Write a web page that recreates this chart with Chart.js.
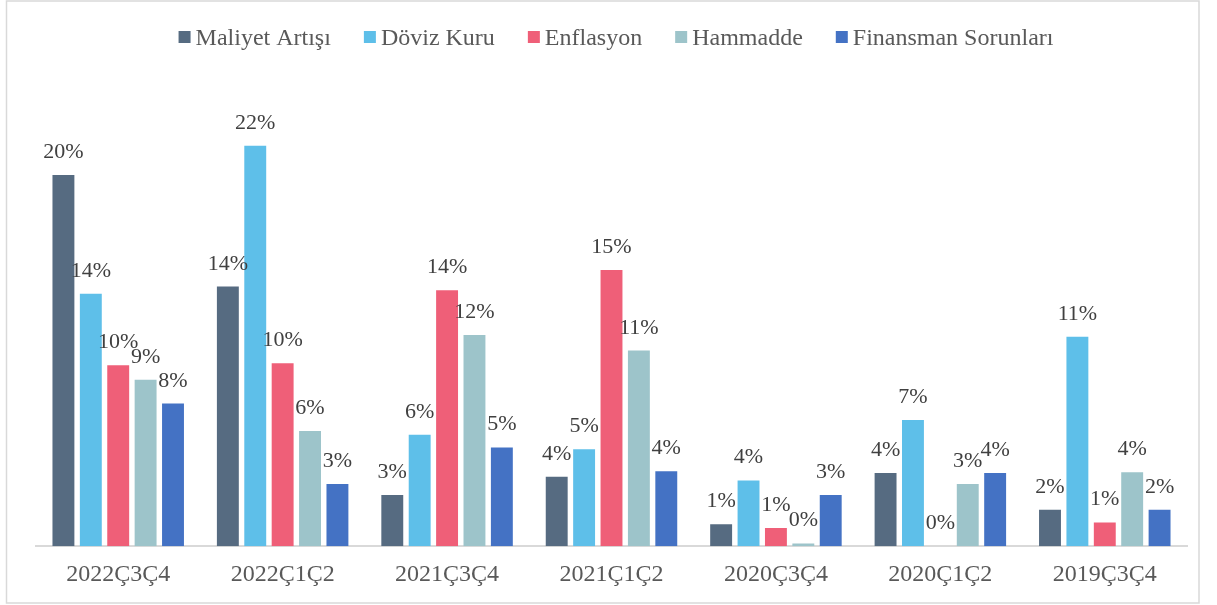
<!DOCTYPE html>
<html lang="tr">
<head>
<meta charset="utf-8">
<title>Sorunlar</title>
<script src="https://cdn.jsdelivr.net/npm/chart.js@4.4.1/dist/chart.umd.min.js"></script>
<style>
    html, body { margin: 0; padding: 0; background: #ffffff; }
    canvas { display: block; }
</style>
</head>
<body>
<canvas id="sorunChart" width="1217" height="605"></canvas>
<script>
// Daten
const kategoriler = ['2022Ç3Ç4', '2022Ç1Ç2', '2021Ç3Ç4', '2021Ç1Ç2', '2020Ç3Ç4', '2020Ç1Ç2', '2019Ç3Ç4'];
const seriNamen = ['Maliyet Artışı', 'Döviz Kuru', 'Enflasyon', 'Hammadde', 'Finansman Sorunları'];
const maliyetArtisi = [20.3, 14.2, 2.8, 3.8, 1.2, 4.0, 2.0];
const dovizKuru = [13.8, 21.9, 6.1, 5.3, 3.6, 6.9, 11.45];
const enflasyon = [9.9, 10.0, 14.0, 15.1, 1.0, 0, 1.3];
const hammadde = [9.1, 6.3, 11.55, 10.7, 0.15, 3.4, 4.05];
const finansman = [7.8, 3.4, 5.4, 4.1, 2.8, 4.0, 2.0];
const farben = ['#566b81', '#5ebfe9', '#ef5f78', '#9dc4ca', '#4472c4'];

const schrift = '"Liberation Serif", "Times New Roman", serif';

// Rahmen um das ganze Diagramm
const rahmenPlugin = {
    id: 'rahmen',
    beforeDraw(chart) {
        const c = chart.ctx;
        c.save();
        c.fillStyle = '#ffffff';
        c.fillRect(0, 0, chart.width, chart.height);
        c.strokeStyle = '#d9d9d9';
        c.lineWidth = 1.5;
        c.strokeRect(6.5, 1, 1192.5, 602);
        c.restore();
    }
};

// Legende oben, eigene Abstände wie im Original
const legendePlugin = {
    id: 'legende',
    afterDraw(chart) {
        const c = chart.ctx;
        c.save();
        c.font = '24px ' + schrift;
        c.textBaseline = 'alphabetic';
        const box = 12, lueckeText = 5, lueckeItem = 33;
        const breiten = chart.data.datasets.map(ds => c.measureText(ds.label).width);
        let gesamt = breiten.reduce((a, b) => a + b, 0) + chart.data.datasets.length * (box + lueckeText) + (chart.data.datasets.length - 1) * lueckeItem;
        let x = 616 - gesamt / 2;
        chart.data.datasets.forEach((ds, i) => {
            c.fillStyle = ds.backgroundColor;
            c.fillRect(x, 31, box, box);
            x += box + lueckeText;
            c.fillStyle = '#595959';
            c.fillText(ds.label, x, 45);
            x += breiten[i] + lueckeItem;
        });
        c.restore();
    }
};

// Prozentwerte über den Balken
const wertePlugin = {
    id: 'werte',
    afterDatasetsDraw(chart) {
        const c = chart.ctx;
        c.save();
        c.font = '22px ' + schrift;
        c.fillStyle = '#404040';
        c.textAlign = 'center';
        c.textBaseline = 'alphabetic';
        chart.data.datasets.forEach((ds, i) => {
            const meta = chart.getDatasetMeta(i);
            meta.data.forEach((bar, j) => {
                c.fillText(Math.round(ds.data[j]) + '%', bar.x, bar.y - 17);
            });
        });
        c.restore();
    }
};

const werte = [maliyetArtisi, dovizKuru, enflasyon, hammadde, finansman];

const config = {
    type: 'bar',
    data: {
        labels: kategoriler,
        datasets: werte.map((reihe, i) => ({
            label: seriNamen[i],
            data: reihe,
            backgroundColor: farben[i],
            borderWidth: 0,
            barPercentage: 0.8,
            categoryPercentage: 0.833
        }))
    },
    options: {
        responsive: false,
        animation: false,
        devicePixelRatio: 1,
        layout: {
            padding: { top: 90, left: 36, right: 30, bottom: 2 }
        },
        plugins: {
            legend: { display: false },
            tooltip: { enabled: false }
        },
        scales: {
            x: {
                grid: { display: false, drawTicks: false },
                border: { display: true, color: '#d9d9d9', width: 2 },
                ticks: {
                    color: '#595959',
                    padding: 14,
                    font: { family: schrift, size: 24 }
                }
            },
            y: {
                display: false,
                min: 0,
                max: 24.95
            }
        }
    },
    plugins: [rahmenPlugin, wertePlugin, legendePlugin]
};

const sorunChart = new Chart(document.getElementById('sorunChart').getContext('2d'), config);
</script>
</body>
</html>
